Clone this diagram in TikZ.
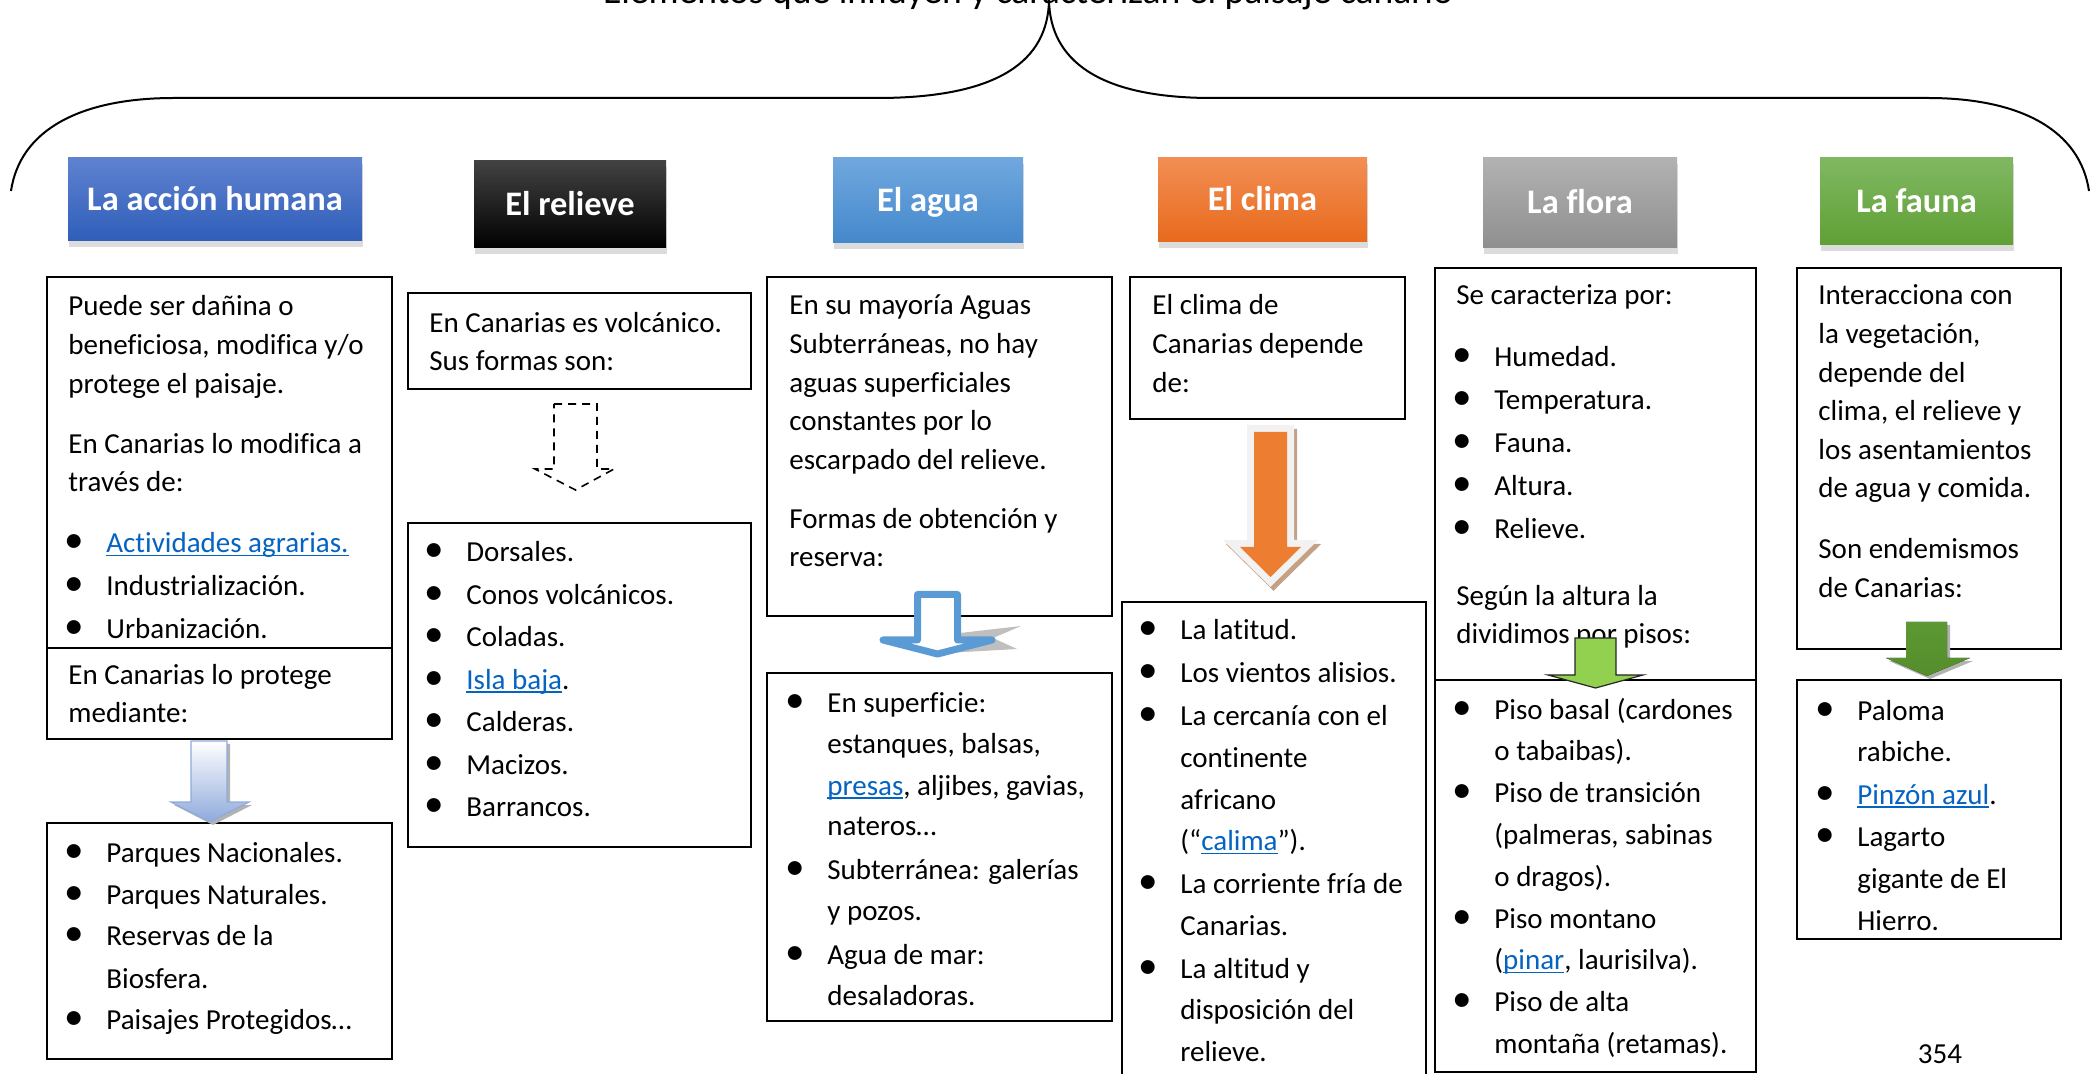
\documentclass[tikz,border=0pt]{standalone}
\usepackage{fontspec}
\setmainfont{Carlito}[Ligatures=NoCommon]
\usetikzlibrary{fit,shadows}
\definecolor{lnkc}{RGB}{5,99,193}
\definecolor{hbA}{RGB}{95,130,208}\definecolor{hbB}{RGB}{47,94,185}
\definecolor{hkA}{RGB}{66,66,66}\definecolor{hkB}{RGB}{0,0,0}
\definecolor{haA}{RGB}{112,168,222}\definecolor{haB}{RGB}{68,136,204}
\definecolor{hoA}{RGB}{242,142,84}\definecolor{hoB}{RGB}{232,106,28}
\definecolor{hgA}{RGB}{178,178,178}\definecolor{hgB}{RGB}{143,143,143}
\definecolor{hvA}{RGB}{128,184,98}\definecolor{hvB}{RGB}{95,160,53}
\definecolor{arA}{RGB}{143,170,220}
\definecolor{arC}{RGB}{91,155,213}
\definecolor{arO}{RGB}{237,125,49}
\definecolor{arOs}{RGB}{196,160,132}
\definecolor{arOb}{RGB}{242,242,242}
\definecolor{arE}{RGB}{146,208,80}
\definecolor{arFa}{RGB}{92,152,52}\definecolor{arFb}{RGB}{126,186,86}\definecolor{arFc}{RGB}{84,142,44}
\newcommand\lnk[1]{{\color{lnkc}\setbox0\hbox{#1}\rlap{\rule[-1.8pt]{\wd0}{0.9pt}}\box0}}
\newcommand\bl{\makebox[19pt][l]{\hspace{3pt}\makebox[0pt][c]{\scalebox{1.35}{\textbullet}}}}
\newcommand\ind{\hspace*{19pt}}
\newcommand\bsk[1]{\setlength\baselineskip{#1}}
\tikzset{
  txt/.style={anchor=base west, inner sep=0pt, font=\fontsize{14.5}{19.3}\selectfont},
  cbox/.style={draw=black, line width=0.9pt, fill=white, inner sep=0pt},
  hdr/.style={inner sep=0pt, text=white, font=\fontsize{17.2}{20}\selectfont\bfseries,
    text height=11pt, text depth=0pt,
    drop shadow={shadow xshift=0.3pt, shadow yshift=-2.8pt, opacity=0.28}},
}
\def\arrA{(191,741) -- (227,741) -- (227,802) -- (249,802) -- (210,822) -- (171,802) -- (191,802) -- cycle}
\def\arrB{(554,404) -- (597,404) -- (597,469) -- (614,469) -- (575.5,490) -- (535,469) -- (554,469) -- cycle}
\def\arrC{(917.5,594.5) -- (957.5,594.5) -- (957.5,640) -- (992,640) -- (937.5,654) -- (883,640) -- (917.5,640) -- cycle}
\def\arrD{(1254,432) -- (1287,432) -- (1287,547) -- (1301,547) -- (1270.5,577) -- (1240,547) -- (1254,547) -- cycle}
\def\arrE{(1575,638) -- (1616,638) -- (1616,675) -- (1643,675) -- (1595.5,688) -- (1548,675) -- (1575,675) -- cycle}
\def\arrF{(1906,622) -- (1947,622) -- (1947,658) -- (1970,658) -- (1927,676) -- (1886,658) -- (1906,658) -- cycle}
\begin{document}
\begin{tikzpicture}[x=0.5pt,y=-0.5pt]
\useasboundingbox (0,0) rectangle (2100,1074);
% title and brace
\node[anchor=base, inner sep=0pt, font=\fontsize{18.8}{22}\selectfont] (title) at (1028,4) {Elementos que influyen y caracterizan el paisaje canario};
\draw[line width=1pt] (11,191) .. controls (20,130) and (80,98) .. (174,98) -- (877,98)
  .. controls (1000,98) and (1048,60) .. (1049,0)
  .. controls (1050,60) and (1098,98) .. (1212,98) -- (1928,98)
  .. controls (2020,98) and (2080,130) .. (2089,191);
% headers
\node[hdr, minimum width=147pt, minimum height=41.5pt, top color=hbA, bottom color=hbB] (h1) at (215,199.5) {La acción humana};
\node[hdr, minimum width=96pt, minimum height=43.5pt, top color=hkA, bottom color=hkB] (h2) at (570,204.5) {El relieve};
\node[hdr, minimum width=95pt, minimum height=42.5pt, top color=haA, bottom color=haB] (h3) at (928,200.5) {El agua};
\node[hdr, minimum width=104.5pt, minimum height=42pt, top color=hoA, bottom color=hoB] (h4) at (1262.5,200) {El clima};
\node[hdr, minimum width=97pt, minimum height=45pt, top color=hgA, bottom color=hgB] (h5) at (1580,203) {La flora};
\node[hdr, minimum width=96.5pt, minimum height=43.5pt, top color=hvA, bottom color=hvB] (h6) at (1916.5,201.5) {La fauna};
% boxes
\node[cbox, fit={(47,277)(392,648)}] (a1) {};
\node[cbox, fit={(47,648)(392,739)}] (a2) {};
\node[cbox, fit={(47,823)(392,1059)}] (a3) {};
\node[cbox, fit={(408,293)(751,389)}] (b1) {};
\node[cbox, fit={(408,523)(751,847)}] (b2) {};
\node[cbox, fit={(767,277)(1112,616)}] (c1) {};
\node[cbox, fit={(767,673)(1112,1021)}] (c2) {};
\node[cbox, fit={(1130,277)(1405,419)}] (d1) {};
\node[cbox, fit={(1122,602)(1426,1100)}] (d2) {};
\node[cbox, fit={(1435,268)(1756,680)}] (e1) {};
\node[cbox, fit={(1435,680)(1756,1072)}] (e2) {};
\node[cbox, fit={(1797,268)(2061,649)}] (f1) {};
\node[cbox, fit={(1797,680)(2061,939)}] (f2) {};
% texts
\node[txt] (a1t) at (68,316) {\parbox[t]{200pt}{\bsk{19.3pt}Puede ser dañina o\\
beneficiosa, modifica y/o\\
protege el paisaje.\\[10.7pt]
En Canarias lo modifica a\\
través de:\\[11.2pt]
\bl\lnk{Actividades agrarias.}\\[2.2pt]
\bl Industrialización.\\[2.2pt]
\bl Urbanización.}};
\node[txt] (a2t) at (68,685) {\parbox[t]{200pt}{\bsk{19pt}En Canarias lo protege\\ mediante:}};
\node[txt] (a3t) at (68,862) {\parbox[t]{200pt}{\bsk{21pt}\bl Parques Nacionales.\\
\bl Parques Naturales.\\
\bl Reservas de la\\
\ind Biosfera.\\
\bl Paisajes Protegidos…}};
\node[txt] (b1t) at (429,333) {\parbox[t]{200pt}{\bsk{19pt}En Canarias es volcánico.\\ Sus formas son:}};
\node[txt] (b2t) at (428,562) {\parbox[t]{200pt}{\bsk{21.25pt}\bl Dorsales.\\
\bl Conos volcánicos.\\
\bl Coladas.\\
\bl \lnk{Isla baja}.\\
\bl Calderas.\\
\bl Macizos.\\
\bl Barrancos.}};
\node[txt] (c1t) at (789,315) {\parbox[t]{200pt}{\bsk{19.3pt}En su mayoría Aguas\\
Subterráneas, no hay\\
aguas superficiales\\
constantes por lo\\
escarpado del relieve.\\[10.2pt]
Formas de obtención y\\
reserva:}};
\node[txt] (c2t) at (789,713) {\parbox[t]{200pt}{\bsk{20.5pt}\bl En superficie:\\
\ind estanques, balsas,\\
\ind \lnk{presas}, aljibes, gavias,\\
\ind nateros…\\[1.5pt]
\bl Subterránea: galerías\\
\ind y pozos.\\[1.5pt]
\bl Agua de mar:\\
\ind desaladoras.}};
\node[txt] (d1t) at (1152,315) {\parbox[t]{200pt}{\bsk{19.3pt}El clima de\\ Canarias depende\\ de:}};
\node[txt] (d2t) at (1142,640) {\parbox[t]{200pt}{\bsk{20.8pt}\bl La latitud.\\[0.7pt]
\bl Los vientos alisios.\\[0.7pt]
\bl La cercanía con el\\
\ind continente\\
\ind africano\\
\ind (“\lnk{calima}”).\\[0.7pt]
\bl La corriente fría de\\
\ind Canarias.\\[0.7pt]
\bl La altitud y\\
\ind disposición del\\
\ind relieve.}};
\node[txt] (e1t) at (1456,305) {\parbox[t]{200pt}{\bsk{21.5pt}Se caracteriza por:\\[9.5pt]
\bl Humedad.\\
\bl Temperatura.\\
\bl Fauna.\\
\bl Altura.\\
\bl Relieve.\\[12pt]
Según la altura la\\[-2.5pt]
dividimos por pisos:}};
\node[txt] (e2t) at (1456,719) {\parbox[t]{200pt}{\bsk{20.9pt}\bl Piso basal (cardones\\
\ind o tabaibas).\\
\bl Piso de transición\\
\ind (palmeras, sabinas\\
\ind o dragos).\\
\bl Piso montano\\
\ind (\lnk{pinar}, laurisilva).\\
\bl Piso de alta\\
\ind montaña (retamas).}};
\node[txt] (f1t) at (1818,305) {\parbox[t]{200pt}{\bsk{19.3pt}Interacciona con\\
la vegetación,\\
depende del\\
clima, el relieve y\\
los asentamientos\\
de agua y comida.\\[11.2pt]
Son endemismos\\
de Canarias:}};
\node[txt] (f2t) at (1819,720) {\parbox[t]{200pt}{\bsk{20.8pt}\bl Paloma\\
\ind rabiche.\\[0.5pt]
\bl \lnk{Pinzón azul}.\\[0.5pt]
\bl Lagarto\\
\ind gigante de El\\
\ind Hierro.}};
\node[anchor=base, inner sep=0pt, font=\fontsize{14.5}{19.3}\selectfont] (pg) at (1940,1063) {354};
% arrows
\fill[black!30, shift={(3,3)}] \arrA;
\draw[draw=arA, line width=0.6pt, top color=white, bottom color=arA] \arrA;
\draw[dashed, dash pattern=on 4pt off 3pt, line width=0.8pt] \arrB;
\fill[black!25] (960,633) -- (1021,626) -- (993,638) -- (1017,649) -- (947,653) -- cycle;
\draw[draw=arC, line width=3.5pt, fill=white, line join=round] \arrC;
\draw[draw=arOs, fill=arOs, line width=7pt, line join=miter, shift={(3,4)}] \arrD;
\draw[draw=arOb, fill=arOb, line width=7pt, line join=miter] \arrD;
\fill[arO] \arrD;
\draw[draw=black!85, fill=arE, line width=0.6pt] \arrE;
\fill[black!30, shift={(3,3)}] \arrF;
\fill[top color=arFa, middle color=arFb, bottom color=arFc] \arrF;
\end{tikzpicture}
\end{document}
